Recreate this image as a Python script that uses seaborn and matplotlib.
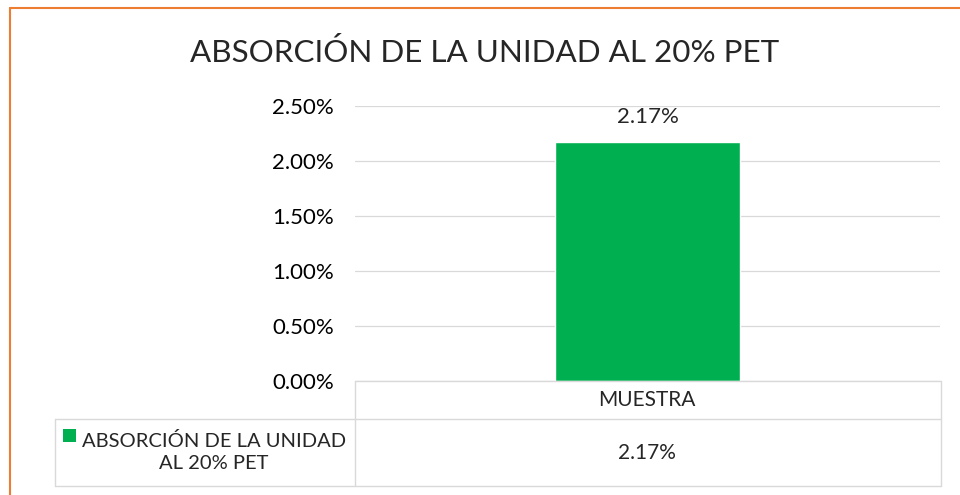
import numpy as np
import pandas as pd
import seaborn as sns
import matplotlib.pyplot as plt
from matplotlib.lines import Line2D
from matplotlib.patches import Rectangle
from matplotlib.ticker import FuncFormatter

# datos
categorias = ['MUESTRA']
valores = [0.0217]
serie_tabla = 'ABSORCIÓN DE LA UNIDAD\nAL 20% PET'
titulo = 'ABSORCIÓN DE LA UNIDAD AL 20% PET'

verde = '#00b050'
gris = '#d9d9d9'
naranja = '#ed7d31'

W, H = 960, 495

sns.set_style('white')
plt.rcParams['font.family'] = ['Lato', 'DejaVu Sans']

df = pd.DataFrame({'cat': categorias, 'val': valores})

fig = plt.figure(figsize=(W / 100, H / 100), dpi=100)

# pixeles -> fraccion de figura
def fx(x):
    return x / W

def fy(y):
    return 1 - y / H

def linea(x0, y0, x1, y1, color=gris, lw=1.0):
    fig.add_artist(Line2D([fx(x0), fx(x1)], [fy(y0), fy(y1)],
                          transform=fig.transFigure, color=color, lw=lw))

ax = fig.add_axes([fx(355), fy(381), fx(940) - fx(355), fy(106) - fy(381)])
sns.barplot(data=df, x='cat', y='val', color=verde, width=0.316, ax=ax, saturation=1)
ax.set_xlim(-0.5, 0.5)
ax.set_ylim(0, 0.025)
ax.set_yticks(np.arange(0, 0.0251, 0.005))
ax.yaxis.set_major_formatter(FuncFormatter(lambda v, p: f'{v * 100:.2f}%'))
ax.tick_params(axis='y', labelsize=16, pad=15, length=0, colors='black')
ax.set_xticks([])
ax.set_xlabel('')
ax.set_ylabel('')
ax.grid(axis='y', color=gris, lw=0.9)
ax.set_axisbelow(True)
for s in ax.spines.values():
    s.set_visible(False)

# etiqueta de datos
for i, v in enumerate(valores):
    ax.annotate(f'{v * 100:.2f}%', (i, v), xytext=(0, 11), textcoords='offset points',
                ha='center', va='bottom', fontsize=16)

# titulo
fig.text(fx(485), fy(52), titulo, ha='center', va='center', fontsize=22.6)

# tabla de datos
linea(355, 381, 941, 381)
linea(355, 381, 355, 486)
linea(941, 381, 941, 486)
linea(55, 419, 941, 419)
linea(55, 419, 55, 486)
linea(55, 486, 941, 486)
fig.text(fx(647), fy(400), categorias[0], ha='center', va='center', fontsize=15)
fig.text(fx(647), fy(453), f'{valores[0] * 100:.2f}%', ha='center', va='center', fontsize=15)
fig.add_artist(Rectangle((fx(63), fy(442)), fx(13), fy(429) - fy(442),
                         transform=fig.transFigure, color=verde, lw=0))
fig.text(fx(214), fy(452), serie_tabla, ha='center', va='center', fontsize=14.5,
         multialignment='center', linespacing=1.4)

# borde naranja
linea(9.5, 7.5, 960, 7.5, color=naranja, lw=1.5)
linea(9.5, 7.5, 9.5, 495, color=naranja, lw=1.5)

fig.savefig('out.png', dpi=100)
